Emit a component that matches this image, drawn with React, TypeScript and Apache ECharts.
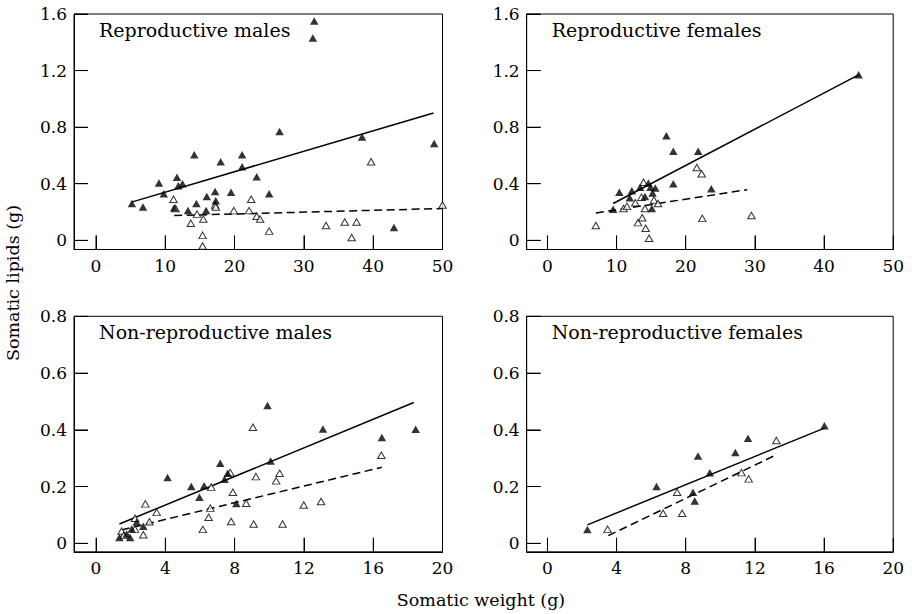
import React, { useEffect, useRef } from "react";
import * as echarts from "echarts";

// ---- Data ----
const repMalesFilled: number[][] = [
  [5.2, 0.26], [6.8, 0.235], [9.1, 0.405], [9.8, 0.33], [11.3, 0.23], [11.7, 0.445],
  [11.9, 0.385], [12.5, 0.4], [13.3, 0.21], [14.2, 0.605], [14.5, 0.26], [15.9, 0.21],
  [16.0, 0.31], [17.2, 0.345], [17.3, 0.28], [18.0, 0.555], [19.5, 0.34], [21.1, 0.605],
  [21.1, 0.52], [23.2, 0.45], [25.0, 0.33], [26.5, 0.77], [31.3, 1.43], [31.5, 1.55],
  [38.4, 0.73], [43.0, 0.09], [48.8, 0.685],
];
const repMalesHollow: number[][] = [
  [11.2, 0.29], [11.5, 0.225], [13.7, 0.12], [14.6, 0.185], [15.5, 0.15], [15.4, 0.035],
  [15.4, -0.04], [17.2, 0.25], [17.3, 0.235], [19.9, 0.21], [22.1, 0.21], [22.4, 0.29],
  [23.2, 0.17], [23.7, 0.15], [25.0, 0.065], [33.2, 0.105], [35.9, 0.13], [36.9, 0.02],
  [37.6, 0.13], [39.7, 0.555], [50.0, 0.25],
];
const repMalesSolid: number[][] = [[5.15, 0.27], [48.7, 0.9]];
const repMalesDashed: number[][] = [[11.3, 0.175], [50, 0.225]];

const repFemalesFilled: number[][] = [
  [9.5, 0.22], [10.4, 0.34], [11.9, 0.3], [12.2, 0.35], [13.4, 0.375], [14.1, 0.31],
  [14.6, 0.405], [14.9, 0.375], [15.2, 0.335], [15.1, 0.225], [15.6, 0.37], [17.2, 0.74],
  [18.2, 0.63], [18.2, 0.4], [21.8, 0.63], [23.7, 0.365], [45.0, 1.17],
];
const repFemalesHollow: number[][] = [
  [7.0, 0.105], [11.0, 0.225], [11.5, 0.24], [12.7, 0.265], [13.1, 0.125], [13.6, 0.305],
  [13.7, 0.16], [13.9, 0.41], [14.1, 0.225], [14.2, 0.085], [14.7, 0.015], [15.4, 0.285],
  [16.0, 0.26], [21.6, 0.515], [22.3, 0.47], [22.4, 0.155], [29.5, 0.175],
];
const repFemalesSolid: number[][] = [[9.5, 0.26], [45.0, 1.17]];
const repFemalesDashed: number[][] = [[7.0, 0.193], [28.9, 0.358]];

const nonRepMalesFilled: number[][] = [
  [1.35, 0.02], [1.77, 0.033], [1.97, 0.02], [2.06, 0.05], [2.35, 0.075], [2.73, 0.06],
  [4.13, 0.232], [5.5, 0.2], [5.97, 0.162], [6.24, 0.203], [7.17, 0.282], [7.42, 0.226],
  [7.6, 0.247], [8.1, 0.14], [9.9, 0.486], [10.08, 0.29], [13.1, 0.403], [16.5, 0.373],
  [18.45, 0.402],
];
const nonRepMalesHollow: number[][] = [
  [1.48, 0.043], [1.6, 0.028], [2.25, 0.088], [2.25, 0.05], [2.73, 0.03], [2.85, 0.139],
  [3.08, 0.076], [3.5, 0.109], [6.17, 0.049], [6.5, 0.092], [6.6, 0.124], [6.65, 0.198],
  [7.75, 0.249], [7.9, 0.18], [7.8, 0.077], [8.67, 0.141], [9.06, 0.409], [9.1, 0.068],
  [9.23, 0.235], [10.4, 0.22], [10.6, 0.247], [10.77, 0.068], [11.99, 0.135], [12.99, 0.147],
  [16.47, 0.31],
];
const nonRepMalesSolid: number[][] = [[1.35, 0.068], [18.34, 0.496]];
const nonRepMalesDashed: number[][] = [[1.48, 0.047], [16.5, 0.268]];

const nonRepFemalesFilled: number[][] = [
  [2.31, 0.049], [6.31, 0.2], [8.42, 0.18], [8.52, 0.149], [8.71, 0.308], [9.39, 0.249],
  [10.87, 0.32], [11.6, 0.37], [16.02, 0.414],
];
const nonRepFemalesHollow: number[][] = [
  [3.48, 0.049], [6.69, 0.106], [7.5, 0.18], [7.79, 0.106], [11.22, 0.249], [11.64, 0.227],
  [13.24, 0.362],
];
const nonRepFemalesSolid: number[][] = [[2.31, 0.065], [16.02, 0.406]];
const nonRepFemalesDashed: number[][] = [[3.52, 0.027], [13.14, 0.309]];

const panelTitles = [
  "Reproductive males",
  "Reproductive females",
  "Non-reproductive males",
  "Non-reproductive females",
];
const xTicksWide = [0, 10, 20, 30, 40, 50];
const xTicksNarrow = [0, 4, 8, 12, 16, 20];
const yTicksTop = [0, 0.4, 0.8, 1.2, 1.6];
const yTicksBottom = [0, 0.2, 0.4, 0.6, 0.8];
const yAxisTitle = "Somatic lipids (g)";
const xAxisTitle = "Somatic weight (g)";

const FONT = "DejaVu Serif";
const TICK_LEN = 14;

export default function App() {
  const ref = useRef<HTMLDivElement>(null);

  useEffect(() => {
    if (!ref.current) return;
    const chart = echarts.init(ref.current, undefined, { renderer: "svg" });

    const grids = [
      { left: 74, top: 14, width: 368.5, height: 235.5 },
      { left: 526.7, top: 14, width: 366.5, height: 235.5 },
      { left: 74, top: 316.3, width: 368.5, height: 235.5 },
      { left: 526.7, top: 316.3, width: 366.5, height: 235.5 },
    ];

    const panels = [
      { filled: repMalesFilled, hollow: repMalesHollow, solid: repMalesSolid, dashed: repMalesDashed, xt: xTicksWide, yt: yTicksTop, xmin: -3.15, ymin: -0.065 },
      { filled: repFemalesFilled, hollow: repFemalesHollow, solid: repFemalesSolid, dashed: repFemalesDashed, xt: xTicksWide, yt: yTicksTop, xmin: -3.0, ymin: -0.065 },
      { filled: nonRepMalesFilled, hollow: nonRepMalesHollow, solid: nonRepMalesSolid, dashed: nonRepMalesDashed, xt: xTicksNarrow, yt: yTicksBottom, xmin: -1.27, ymin: -0.03 },
      { filled: nonRepFemalesFilled, hollow: nonRepFemalesHollow, solid: nonRepFemalesSolid, dashed: nonRepFemalesDashed, xt: xTicksNarrow, yt: yTicksBottom, xmin: -1.2, ymin: -0.03 },
    ];

    const xAxes = panels.map((p, i) => ({
      type: "value",
      gridIndex: i,
      min: p.xmin,
      max: p.xt[p.xt.length - 1],
      axisLine: { show: true, onZero: false, lineStyle: { color: "#000", width: 1 } },
      splitLine: { show: false },
      axisTick: { show: true, inside: true, length: TICK_LEN, customValues: p.xt, lineStyle: { color: "#000", width: 1 } },
      axisLabel: {
        show: true,
        margin: 8,
        customValues: p.xt,
        color: "#000",
        fontFamily: FONT,
        fontSize: 17,
        formatter: (v: number) => String(v),
      },
    }));

    const yAxes = panels.map((p, i) => ({
      type: "value",
      gridIndex: i,
      min: p.ymin,
      max: p.yt[p.yt.length - 1],
      axisLine: { show: true, onZero: false, lineStyle: { color: "#000", width: 1 } },
      splitLine: { show: false },
      axisTick: { show: true, inside: true, length: TICK_LEN, customValues: p.yt, lineStyle: { color: "#000", width: 1 } },
      axisLabel: {
        show: true,
        margin: 7,
        customValues: p.yt,
        color: "#000",
        fontFamily: FONT,
        fontSize: 17,
        formatter: (v: number) => (v === 0 ? "0" : v.toFixed(1)),
      },
    }));

    const series: any[] = [];
    panels.forEach((p, i) => {
      series.push({
        type: "scatter",
        xAxisIndex: i,
        yAxisIndex: i,
        data: p.hollow,
        symbol: "triangle",
        symbolSize: [7.5, 6.5],
        clip: false,
        itemStyle: { color: "#fff", borderColor: "#000", borderWidth: 1 },
        z: 3,
      });
      series.push({
        type: "scatter",
        xAxisIndex: i,
        yAxisIndex: i,
        data: p.filled,
        symbol: "triangle",
        symbolSize: [8.5, 7.5],
        clip: false,
        itemStyle: { color: "#000" },
        z: 4,
      });
      series.push({
        type: "line",
        xAxisIndex: i,
        yAxisIndex: i,
        data: p.solid,
        symbol: "none",
        lineStyle: { color: "#000", width: 1.5, type: "solid" },
        z: 2,
      });
      series.push({
        type: "line",
        xAxisIndex: i,
        yAxisIndex: i,
        data: p.dashed,
        symbol: "none",
        lineStyle: { color: "#000", width: 1.5, type: [8, 4.5] },
        z: 2,
      });
      // Inward tick marks on the bottom edge, placed via the axis scales
      series.push({
        type: "scatter",
        xAxisIndex: i,
        yAxisIndex: i,
        data: p.xt.map((v) => [v, p.ymin]),
        symbol: "rect",
        symbolSize: [1, TICK_LEN],
        symbolOffset: [0, -TICK_LEN / 2],
        clip: false,
        silent: true,
        itemStyle: { color: "#000", borderWidth: 0 },
        z: 5,
      });
      // Inward tick marks on the left edge
      series.push({
        type: "scatter",
        xAxisIndex: i,
        yAxisIndex: i,
        data: p.yt.map((v) => [p.xmin, v]),
        symbol: "rect",
        symbolSize: [TICK_LEN, 1],
        symbolOffset: [TICK_LEN / 2, 0],
        clip: false,
        silent: true,
        itemStyle: { color: "#000", borderWidth: 0 },
        z: 5,
      });
    });

    const graphics: any[] = grids.map((g, i) => ({
      type: "text",
      x: g.left + 25,
      y: g.top + 16,
      silent: true,
      style: {
        text: panelTitles[i],
        fontFamily: FONT,
        fontSize: 19,
        fill: "#000",
        textAlign: "left",
        textVerticalAlign: "middle",
      },
    }));
    graphics.push({
      type: "text",
      x: 13,
      y: 283,
      rotation: Math.PI / 2,
      silent: true,
      style: {
        text: yAxisTitle,
        fontFamily: FONT,
        fontSize: 17.5,
        fill: "#000",
        textAlign: "center",
        textVerticalAlign: "middle",
      },
    });
    graphics.push({
      type: "text",
      x: 481,
      y: 600,
      silent: true,
      style: {
        text: xAxisTitle,
        fontFamily: FONT,
        fontSize: 17.5,
        fill: "#000",
        textAlign: "center",
        textVerticalAlign: "middle",
      },
    });

    chart.setOption({
      animation: false,
      grid: grids.map((g) => ({ ...g, show: true, borderColor: "#000" })),
      xAxis: xAxes,
      yAxis: yAxes,
      series,
      graphic: graphics,
    });

    return () => chart.dispose();
  }, []);

  return (
    <div
      ref={ref}
      style={{ position: "fixed", left: 0, top: 0, width: 912, height: 614, background: "#fff" }}
    />
  );
}
